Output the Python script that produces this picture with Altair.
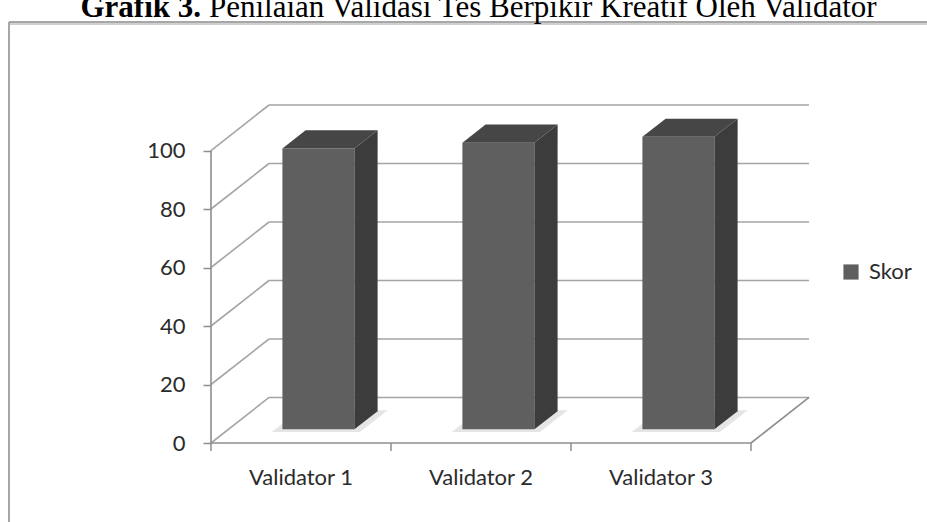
import altair as alt
import pandas as pd

# ---------------- data ----------------
categories = ["Validator 1", "Validator 2", "Validator 3"]
scores = [96, 98, 100]
series_name = "Skor"
y_ticks = [0, 20, 40, 60, 80, 100]
title_bold = "Grafik 3."
title_rest = "Penilaian Validasi Tes Berpikir Kreatif Oleh Validator"

# ---------------- projection / layout ----------------
N = len(categories)
CAT_PX = 180.0
DEPTH_PX_X = 58.0
W = int(N * CAT_PX + DEPTH_PX_X)        # 598
H = 338
PAD_L, PAD_T = 211, 105
PAD_R = 927 - PAD_L - W
PAD_B = 522 - PAD_T - H
YMAX_FRONT = 100
DX = DEPTH_PX_X / CAT_PX                # depth offset in category units
DY = 45.5 / (H / 115.57)                # depth offset in value units
YDOM = YMAX_FRONT + DY
F0, F1 = 0.30, 0.70                     # bar depth range (fraction of floor depth)
B0, B1 = 0.30, 0.70                     # bar width range in category

FRONT = "#5f5f5f"
SIDE = "#3c3c3c"
TOP = "#464646"
GRID = "#a5a5a5"
AXIS = "#8e8e8e"
TXT = "#2b2b2b"
FONT = "Lato"

xs = alt.Scale(domain=[0, N + DX], nice=False, zero=False)
ys = alt.Scale(domain=[0, YDOM], nice=False, zero=False)

yaxis = alt.Axis(values=y_ticks, domain=False, grid=False, ticks=True, tickSize=8,
                 tickColor=AXIS, tickWidth=1.5, labelFont=FONT, labelFontSize=22,
                 labelColor=TXT, labelPadding=18, title=None)


def X(f):
    return alt.X(f, type="quantitative", scale=xs, axis=None, stack=None)


def Y(f):
    return alt.Y(f, type="quantitative", scale=ys, axis=yaxis, stack=None)


# ---------------- tables built from the data ----------------
grid_rows = []
for t in y_ticks:
    grid_rows.append({"x": DX, "x2": N + DX, "y": t + DY, "y2": t + DY})  # back wall
    grid_rows.append({"x": 0, "x2": DX, "y": t, "y2": t + DY})            # side wall
grid_df = pd.DataFrame(grid_rows)

frame_df = pd.DataFrame([
    {"x": 0, "x2": N, "y": 0, "y2": 0},                 # floor front edge
    {"x": N, "x2": N + DX, "y": 0, "y2": DY},           # floor right edge
    {"x": 0, "x2": 0, "y": 0, "y2": YMAX_FRONT},        # value axis line
])

front_rows, side_rows, top_rows, shadow_rows = [], [], [], []
for i, (c, v) in enumerate(zip(categories, scores)):
    front_rows.append({
        "cat": c, "series": series_name,
        "x": i + B0 + F0 * DX, "x2": i + B1 + F0 * DX,
        "y": F0 * DY, "y2": v + F0 * DY,
    })
    for f in (F0, F1):
        side_rows.append({"cat": c, "x": i + B1 + f * DX, "y": f * DY, "y2": v + f * DY})
        top_rows.append({"cat": c, "y": v + f * DY, "x": i + B0 + f * DX, "x2": i + B1 + f * DX})
    for f in (F0 - 0.06, F1 + 0.02):
        shadow_rows.append({"cat": c, "y": f * DY,
                            "x": i + B0 - 0.04 + f * DX, "x2": i + B1 + 0.05 + f * DX})
front_df = pd.DataFrame(front_rows)
side_df = pd.DataFrame(side_rows)
top_df = pd.DataFrame(top_rows)
shadow_df = pd.DataFrame(shadow_rows)

xtick_df = pd.DataFrame({"x": list(range(N + 1))})
label_df = pd.DataFrame({"x": [i + 0.5 for i in range(N)], "cat": categories})

# ---------------- layers ----------------
grid = alt.Chart(grid_df).mark_rule(color=GRID, strokeWidth=1.6).encode(
    x=X("x"), x2="x2", y=Y("y"), y2="y2")

frame = alt.Chart(frame_df).mark_rule(color=AXIS, strokeWidth=1.6).encode(
    x=X("x"), x2="x2", y=Y("y"), y2="y2")

shadow = alt.Chart(shadow_df).mark_area(orient="horizontal", color="#a8a8a8", opacity=0.3).encode(
    y=Y("y"), x=X("x"), x2="x2", detail="cat:N")

side = alt.Chart(side_df).mark_area(orient="vertical", color=SIDE).encode(
    x=X("x"), y=Y("y"), y2="y2", detail="cat:N")

top = alt.Chart(top_df).mark_area(orient="horizontal", color=TOP).encode(
    y=Y("y"), x=X("x"), x2="x2", detail="cat:N")

front = alt.Chart(front_df).mark_rect().encode(
    x=X("x"), x2="x2", y=Y("y"), y2="y2",
    color=alt.Color("series:N",
                    scale=alt.Scale(domain=[series_name], range=[FRONT]),
                    legend=alt.Legend(orient="none", legendX=629, legendY=156, title=None,
                                      symbolType="square", symbolSize=230,
                                      symbolStrokeWidth=0, labelFont=FONT,
                                      labelFontSize=22, labelColor=TXT,
                                      labelOffset=7, padding=0)))

xticks = alt.Chart(xtick_df).mark_rule(color=AXIS, strokeWidth=1.5).encode(
    x=X("x"), y=alt.value(H), y2=alt.value(H + 8))

xlabels = alt.Chart(label_df).mark_text(font=FONT, fontSize=22, color=TXT, baseline="middle").encode(
    x=X("x"), y=alt.value(H + 35), text="cat:N")

# outer frame (page box) and title
box = alt.Chart(pd.DataFrame({"k": [0]})).mark_rule(color="#8a8a8a", strokeWidth=1.5).encode(
    x=alt.value(9 - PAD_L), x2=alt.value(950 - PAD_L), y=alt.value(22 - PAD_T))
box_l = alt.Chart(pd.DataFrame({"k": [0]})).mark_rule(color="#8a8a8a", strokeWidth=1.5).encode(
    x=alt.value(9 - PAD_L), y=alt.value(22 - PAD_T), y2=alt.value(560 - PAD_T))
box_sh = alt.Chart(pd.DataFrame({"k": [0]})).mark_rule(color="#cfcfcf", strokeWidth=2).encode(
    x=alt.value(10 - PAD_L), x2=alt.value(950 - PAD_L), y=alt.value(24 - PAD_T))

t1 = alt.Chart(pd.DataFrame({"t": [title_bold]})).mark_text(
    font="Liberation Serif", fontSize=31, fontWeight="bold", color="#000",
    align="right", baseline="alphabetic").encode(
    text="t:N", x=alt.value(201 - PAD_L), y=alt.value(17 - PAD_T))
t2 = alt.Chart(pd.DataFrame({"t": [title_rest]})).mark_text(
    font="Liberation Serif", fontSize=31, color="#000",
    align="left", baseline="alphabetic").encode(
    text="t:N", x=alt.value(209 - PAD_L), y=alt.value(17 - PAD_T))

chart = alt.layer(
    grid, frame, shadow, front, side, top, xticks, xlabels,
    box_sh, box, box_l, t1, t2
).properties(
    width=W, height=H,
    autosize=alt.AutoSizeParams(type="none"),
    padding={"left": PAD_L, "top": PAD_T, "right": PAD_R, "bottom": PAD_B},
    background="white",
).configure_view(stroke=None)

chart.save("out.html", embed_options={"renderer": "svg", "actions": False})
